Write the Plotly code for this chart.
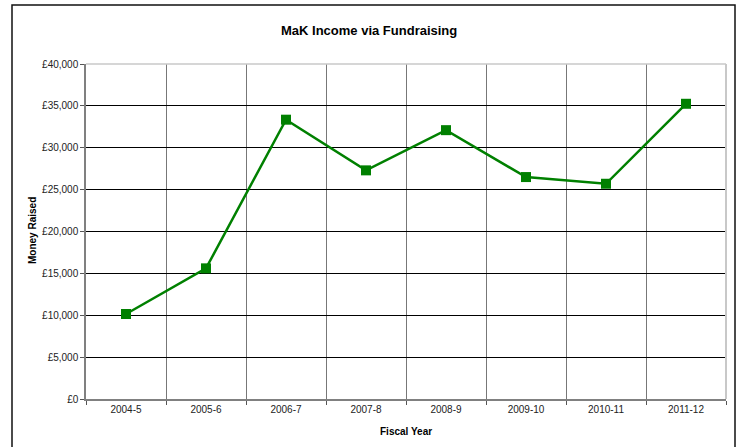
import plotly.graph_objects as go

# data
years = ["2004-5", "2005-6", "2006-7", "2007-8", "2008-9", "2009-10", "2010-11", "2011-12"]
raised = [10150, 15600, 33350, 27300, 32100, 26500, 25700, 35250]
y_ticks = [0, 5000, 10000, 15000, 20000, 25000, 30000, 35000, 40000]
y_labels = ["\u00a3{:,}".format(v) for v in y_ticks]

FONT = "Arial, Liberation Sans, sans-serif"
GREEN = "#008000"

fig = go.Figure()

fig.add_trace(
    go.Scatter(
        x=years,
        y=raised,
        mode="lines+markers",
        line=dict(color=GREEN, width=2.5),
        marker=dict(symbol="square", size=10, color=GREEN),
        hovertemplate="%{x}<br>%{y:,}<extra></extra>",
        cliponaxis=False,
    )
)

# plot area margins (px)
L, R, T, B = 86, 16, 64, 48
W, H = 742, 447
pw, ph = W - L - R, H - T - B


def px_x(x):
    return (x - L) / pw


def px_y(y):
    return (H - B - y) / ph


fig.update_layout(
    width=W,
    height=H,
    margin=dict(l=L, r=R, t=T, b=B),
    paper_bgcolor="white",
    plot_bgcolor="white",
    showlegend=False,
    font=dict(family=FONT, size=10, color="#222"),
    xaxis=dict(
        type="category",
        tickson="boundaries",
        showgrid=True,
        gridcolor="#777",
        gridwidth=1,
        showline=True,
        linecolor="#808080",
        linewidth=1.5,
        ticks="outside",
        ticklen=4,
        tickcolor="#555",
        tickfont=dict(size=10, color="#222"),
        range=[-0.5, 7.5],
        fixedrange=True,
    ),
    yaxis=dict(
        range=[0, 40000],
        tickmode="array",
        tickvals=y_ticks,
        ticktext=y_labels,
        showgrid=True,
        gridcolor="#000",
        gridwidth=1,
        zeroline=False,
        showline=True,
        linecolor="#808080",
        linewidth=1.5,
        ticks="outside",
        ticklen=4,
        tickcolor="#555",
        tickfont=dict(size=10, color="#222"),
        fixedrange=True,
    ),
    annotations=[
        dict(text="<b>MaK Income via Fundraising</b>", xref="paper", yref="paper",
             x=px_x(369), y=px_y(30), showarrow=False, font=dict(size=13, color="#000"),
             xanchor="center", yanchor="middle"),
        dict(text="<b>Fiscal Year</b>", xref="paper", yref="paper",
             x=px_x(406), y=px_y(431), showarrow=False, font=dict(size=10, color="#000"),
             xanchor="center", yanchor="middle"),
        dict(text="<b>Money Raised</b>", xref="paper", yref="paper",
             x=px_x(32), y=px_y(231), showarrow=False, font=dict(size=10, color="#000"),
             textangle=-90, xanchor="center", yanchor="middle"),
    ],
    shapes=[
        # outer chart frame
        dict(type="rect", xref="paper", yref="paper",
             x0=px_x(12), x1=px_x(735), y0=px_y(460), y1=px_y(5),
             line=dict(color="#111", width=1.5), layer="below"),
        # light plot-area border on top and right
        dict(type="line", xref="paper", yref="paper",
             x0=0, x1=1, y0=1, y1=1, line=dict(color="#c8c8c8", width=1.5)),
        dict(type="line", xref="paper", yref="paper",
             x0=1, x1=1, y0=0, y1=1, line=dict(color="#c8c8c8", width=2)),
    ],
)

fig.write_html("out.html", config={"displayModeBar": False},
               post_script="document.body.style.margin='0';")
